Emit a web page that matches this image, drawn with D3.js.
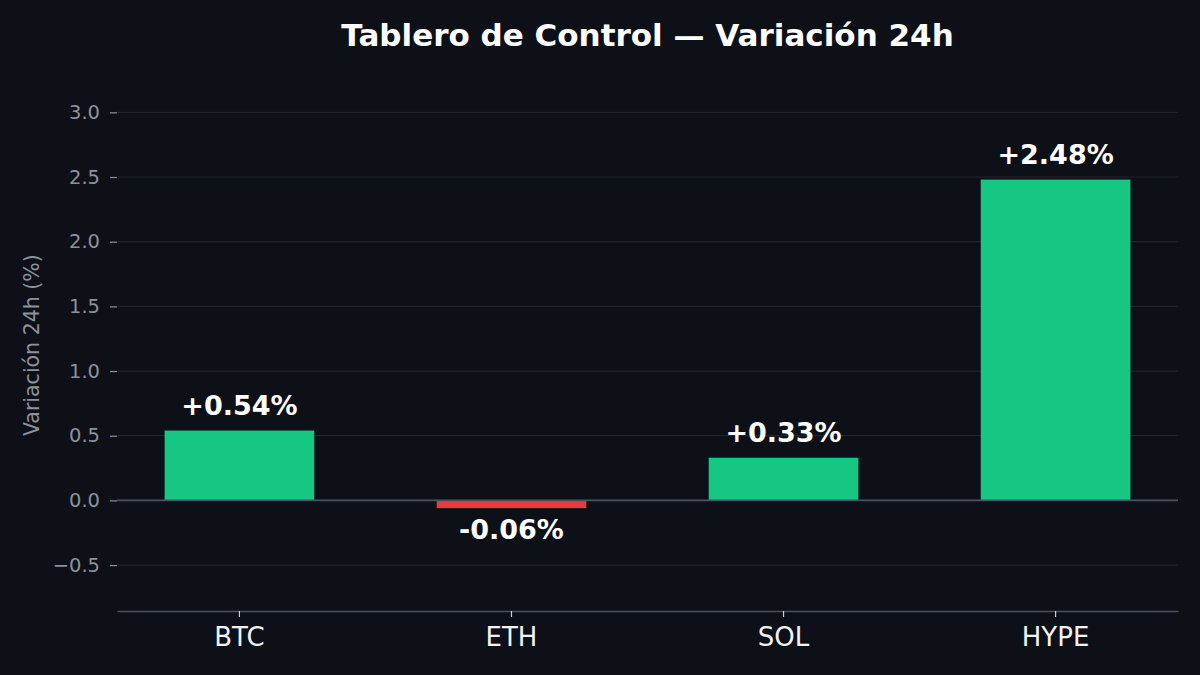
<!DOCTYPE html>
<html>
<head>
<meta charset="utf-8">
<script src="https://cdn.jsdelivr.net/npm/d3@7"></script>
<style>
  html, body { margin: 0; padding: 0; background: #0d1017; }
  svg { display: block; font-family: "DejaVu Sans", sans-serif; }
</style>
</head>
<body>
<svg id="chart"></svg>
<script>
// data
var coins = ["BTC", "ETH", "SOL", "HYPE"];
var change24h = [0.54, -0.06, 0.33, 2.48];
var yTicks = [-0.5, 0.0, 0.5, 1.0, 1.5, 2.0, 2.5, 3.0];

var W = 1200, H = 675;
var margin = { top: 80, right: 22, bottom: 64, left: 117 };

var svg = d3.select("#chart")
  .attr("width", W)
  .attr("height", H);

svg.append("rect")
  .attr("width", W).attr("height", H)
  .attr("fill", "#0d1017");

// scales
var x = d3.scaleBand()
  .domain(coins)
  .range([margin.left, W - margin.right])
  .paddingInner(0.45)
  .paddingOuter(0.175);

var y = d3.scaleLinear()
  .domain([-0.855, 3.25])
  .range([H - margin.bottom, margin.top]);

// grid lines
svg.append("g")
  .selectAll("line")
  .data(yTicks)
  .enter()
  .append("line")
  .attr("x1", margin.left)
  .attr("x2", W - margin.right)
  .attr("y1", function (d) { return y(d); })
  .attr("y2", function (d) { return y(d); })
  .attr("stroke", "#1f232b")
  .attr("stroke-width", 1.2);

// y axis (ticks and labels only)
var yAxis = svg.append("g")
  .attr("transform", "translate(" + margin.left + ",0)")
  .call(d3.axisLeft(y).tickValues(yTicks).tickSize(7).tickPadding(10)
    .tickFormat(function (d) { return d3.format(".1f")(d).replace("-", "\u2212"); }));
yAxis.select(".domain").remove();
yAxis.attr("font-size", null).attr("font-family", null);
yAxis.selectAll(".tick line").attr("stroke", "#8b929c").attr("stroke-width", 1.2);
yAxis.selectAll(".tick text")
  .attr("fill", "#8b929c")
  .style("font-size", "19.5px")
  .style("font-family", "DejaVu Sans");

// bars
svg.append("g")
  .selectAll("rect")
  .data(coins)
  .enter()
  .append("rect")
  .attr("x", function (d) { return x(d); })
  .attr("width", x.bandwidth())
  .attr("y", function (d, i) { return y(Math.max(0, change24h[i])); })
  .attr("height", function (d, i) { return Math.abs(y(change24h[i]) - y(0)); })
  .attr("fill", function (d, i) { return change24h[i] >= 0 ? "#16c784" : "#ea3943"; });

// zero line
svg.append("line")
  .attr("x1", margin.left)
  .attr("x2", W - margin.right)
  .attr("y1", y(0))
  .attr("y2", y(0))
  .attr("stroke", "#4a5060")
  .attr("stroke-width", 1.6);

// x axis
var xAxis = svg.append("g")
  .attr("transform", "translate(0," + (H - margin.bottom) + ")")
  .call(d3.axisBottom(x).tickSize(6).tickPadding(8).tickSizeOuter(0));
xAxis.attr("font-size", null).attr("font-family", null);
xAxis.select(".domain").attr("stroke", "#4a5060").attr("stroke-width", 1.6);
xAxis.selectAll(".tick line").attr("stroke", "#c9cdd3").attr("stroke-width", 1.2);
xAxis.selectAll(".tick text")
  .attr("fill", "#f0f2f5")
  .attr("dy", "0.81em")
  .style("font-size", "26px")
  .style("font-family", "DejaVu Sans");

// value labels
svg.append("g")
  .selectAll("text")
  .data(coins)
  .enter()
  .append("text")
  .attr("x", function (d) { return x(d) + x.bandwidth() / 2; })
  .attr("y", function (d, i) {
    var v = change24h[i];
    return v >= 0 ? y(v) - 16 : y(v) + 31;
  })
  .attr("text-anchor", "middle")
  .attr("fill", "#ffffff")
  .style("font-size", "27px")
  .style("font-weight", "bold")
  .text(function (d, i) {
    var v = change24h[i];
    return (v >= 0 ? "+" : "") + v.toFixed(2) + "%";
  });

// title
svg.append("text")
  .attr("x", (margin.left + W - margin.right) / 2)
  .attr("y", 46)
  .attr("text-anchor", "middle")
  .attr("fill", "#ffffff")
  .style("font-size", "31px")
  .style("font-weight", "bold")
  .text("Tablero de Control \u2014 Variaci\u00f3n 24h");

// y label
svg.append("text")
  .attr("transform", "translate(39," + y(1.2) + ") rotate(-90)")
  .attr("text-anchor", "middle")
  .attr("fill", "#8b929c")
  .style("font-size", "20.5px")
  .text("Variaci\u00f3n 24h (%)");
</script>
</body>
</html>
